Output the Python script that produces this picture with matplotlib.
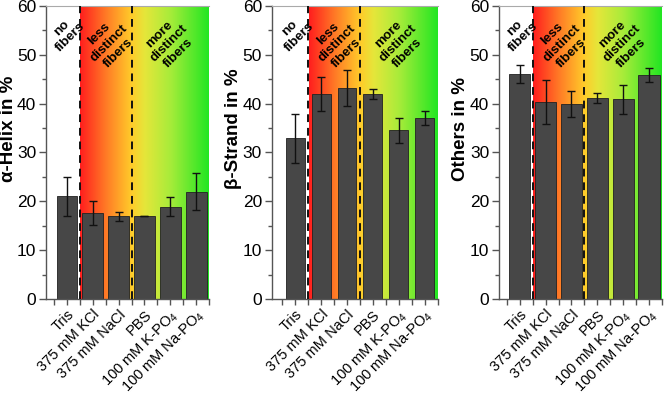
import numpy as np
import matplotlib
matplotlib.use("Agg")
import matplotlib.pyplot as plt
from matplotlib.colors import LinearSegmentedColormap
from matplotlib.ticker import MultipleLocator

plt.rcParams['font.family'] = ['Liberation Sans', 'DejaVu Sans']
plt.rcParams['mathtext.fontset'] = 'custom'
plt.rcParams['mathtext.rm'] = 'Liberation Sans'

# Data
buffers = ["Tris", "375 mM KCl", "375 mM NaCl", "PBS", "100 mM K-PO$_4$", "100 mM Na-PO$_4$"]

helix = [21.0, 17.6, 16.9, 16.9, 18.9, 22.0]
helix_err = [4.0, 2.5, 1.0, 0.0, 1.9, 3.8]

strand = [32.9, 41.9, 43.2, 41.9, 34.5, 37.0]
strand_err = [5.0, 3.5, 3.7, 1.0, 2.5, 1.4]

others = [46.1, 40.4, 39.9, 41.1, 40.9, 45.9]
others_err = [1.9, 4.5, 2.6, 1.0, 3.0, 1.45]

ylabels = ["α-Helix in %", "β-Strand in %", "Others in %"]
region_labels = ["no\nfibers", "less\ndistinct\nfibers", "more\ndistinct\nfibers"]

panels = [(helix, helix_err), (strand, strand_err), (others, others_err)]

# layout (figure fractions) per panel
lefts = [0.069, 0.408, 0.749]
widths = [0.245, 0.249, 0.245]
xlim_left = [0.19, 0.09, 0.19]
bar_w = [0.8, 0.73, 0.82]

# red -> orange -> yellow -> yellow-green -> green
grad = LinearSegmentedColormap.from_list(
    "fib", [(0.0, "#ff1e1e"), (0.2, "#ff7a26"), (0.4, "#ffcc2a"),
            (0.5, "#e6e63a"), (0.7, "#a8ec3a"), (1.0, "#22e622")])

fig = plt.figure(figsize=(6.66, 3.95), dpi=100)
x = np.arange(1, len(buffers) + 1)

for i, (vals, errs) in enumerate(panels):
    ax = fig.add_axes([lefts[i], 0.243, widths[i], 0.742])
    # background gradient for the fiber regions
    g = np.linspace(0, 1, 256).reshape(1, -1)
    ax.imshow(g, cmap=grad, aspect="auto", extent=[1.52, 6.5, 0, 60], zorder=0)

    ax.bar(x, vals, width=bar_w[i], color="#474747", edgecolor="#222222",
           linewidth=0.6, zorder=2)
    ax.errorbar(x, vals, yerr=errs, fmt="none", ecolor="#111111",
                elinewidth=1.0, capsize=3, capthick=1.0, zorder=3)

    for xd in [1.5, 3.5]:
        ax.axvline(xd, color="#111111", linestyle=(0, (4, 3)), linewidth=1.4, zorder=4)

    ax.text(0.97, 54.5, region_labels[0], rotation=45, ha="center", va="center",
            fontsize=9.5, fontweight="bold", linespacing=1.15, zorder=5)
    ax.text(2.62, 52.3, region_labels[1], rotation=45, ha="center", va="center",
            fontsize=9.5, fontweight="bold", linespacing=1.15, zorder=5)
    ax.text(4.96, 52.3, region_labels[2], rotation=45, ha="center", va="center",
            fontsize=9.5, fontweight="bold", linespacing=1.15, zorder=5)

    ax.set_xlim(xlim_left[i], 6.5)
    ax.set_ylim(0, 60)
    ax.yaxis.set_major_locator(MultipleLocator(10))
    ax.yaxis.set_minor_locator(MultipleLocator(5))
    ax.set_xticks(x)
    ax.set_xticks(np.arange(0.5, 6.6, 1.0), minor=True)
    ax.set_xticklabels(buffers, rotation=45, ha="right", rotation_mode="anchor",
                       fontsize=10.5)
    ax.tick_params(axis="y", labelsize=12.5, direction="out", length=5, width=1,
                   color="#555555", pad=2)
    ax.tick_params(axis="y", which="minor", length=3, width=1, color="#555555")
    ax.tick_params(axis="x", which="both", direction="out", length=4, width=1,
                   color="#555555", pad=2)
    ax.set_ylabel(ylabels[i], fontsize=13.5, fontweight="bold")
    ax.yaxis.set_label_coords(-0.18, 0.58)

    for s in ["left", "bottom"]:
        ax.spines[s].set_color("#555555")
        ax.spines[s].set_linewidth(1.0)
    ax.spines["top"].set_color("#aaaaaa")
    ax.spines["top"].set_linewidth(0.8)
    ax.spines["right"].set_visible(False)

fig.savefig("out.png", dpi=100)
